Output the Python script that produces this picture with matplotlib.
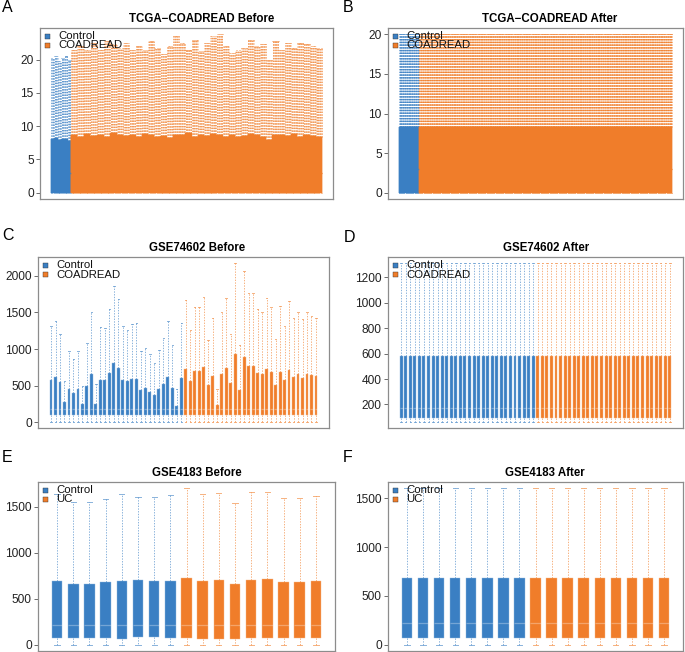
import numpy as np
import matplotlib as mpl
import matplotlib.pyplot as plt
from matplotlib.patches import Rectangle

mpl.use('Agg')
plt.rcParams['font.family'] = ['Liberation Sans', 'DejaVu Sans']

BLUE = "#3A7FC3"
ORANGE = "#F07D2A"

# ---- TCGA-COADREAD (log2 counts), values read per block of samples ----
tcga_n_ctrl = 51
tcga_n_case = 647
tcga_ctrl_hi = [20.3, 20.6, 19.8, 20.2, 20.5, 19.9]
tcga_ctrl_q3 = [8.0, 8.2, 7.9, 8.1, 8.0, 7.8]
tcga_case_hi = [21.5, 22.0, 21.5, 22.5, 21.5, 22.8, 22.3, 21.8, 22.5, 21.5,
                22.0, 21.5, 22.8, 21.8, 20.8, 22.0, 23.5, 22.5, 21.5, 23.0,
                21.3, 22.5, 23.5, 23.8, 22.0, 21.0, 21.5, 21.8, 23.0, 22.0,
                22.3, 20.0, 22.8, 21.5, 22.5, 21.8, 22.5, 22.3, 22.0, 21.8]
tcga_case_q3 = [8.6, 8.4, 8.8, 8.5, 8.7, 8.3, 8.9, 8.6, 8.5, 8.7,
                8.4, 8.8, 8.6, 8.3, 8.5, 8.2, 8.7, 8.6, 8.9, 8.4,
                8.6, 8.5, 8.8, 8.7, 8.4, 8.6, 8.3, 8.5, 8.8, 8.6,
                8.4, 7.9, 8.6, 8.7, 8.5, 8.8, 8.4, 8.6, 8.5, 8.3]
tcga_lo, tcga_q1, tcga_med = 0.0, 0.0, 3.0
# after normalisation every sample has the same summary
tcga_after = dict(lo=0.0, q1=0.0, med=3.0, q3=8.25, hi=20.0)

# ---- GSE74602 ----
gse74_ctrl_q3 = [580, 620, 545, 280, 450, 400, 450, 245, 490, 665,
                 255, 580, 575, 680, 810, 740, 580, 560, 590, 595,
                 440, 470, 420, 370, 450, 520, 615, 465, 225, 605]
gse74_ctrl_hi = [1310, 1380, 1200, 560, 970, 860, 980, 490, 1080, 1510,
                 530, 1300, 1290, 1550, 1860, 1690, 1310, 1260, 1340, 1360,
                 970, 1010, 930, 810, 990, 1150, 1390, 1050, 450, 1350]
gse74_case_q3 = [730, 570, 695, 695, 750, 510, 630, 235, 655, 740,
                 540, 930, 440, 890, 765, 765, 680, 665, 735, 690,
                 510, 690, 575, 715, 625, 660, 600, 660, 640, 630]
gse74_case_hi = [1670, 1260, 1580, 1570, 1710, 1130, 1420, 460, 1500, 1700,
                 1200, 2170, 1060, 2070, 1770, 1760, 1550, 1510, 1700, 1580,
                 1140, 1590, 1310, 1650, 1430, 1510, 1410, 1510, 1450, 1420]
gse74_lo, gse74_q1, gse74_med = 10, 100, 180
gse74_after = dict(lo=65, q1=95, med=175, q3=585, hi=1310)

# ---- GSE4183 ----
gse41_ctrl_q1 = [70, 75, 75, 75, 65, 85, 85, 70]
gse41_ctrl_q3 = [690, 665, 665, 680, 690, 700, 690, 690]
gse41_ctrl_hi = [1640, 1550, 1550, 1580, 1640, 1610, 1600, 1630]
gse41_case_q1 = [75, 65, 65, 65, 70, 75, 75, 70, 70]
gse41_case_q3 = [725, 695, 700, 655, 705, 710, 685, 685, 690]
gse41_case_hi = [1700, 1640, 1650, 1540, 1660, 1660, 1590, 1590, 1620]
gse41_lo, gse41_med = 0, 215
gse41_after = dict(lo=0, q1=68, med=223, q3=688, hi=1605)


def blocks(values, n):
    """Spread per-block readings over n samples."""
    out = np.empty(n)
    for idx, v in zip(np.array_split(np.arange(n), len(values)), values):
        out[idx] = v
    return out


def stats(lo, q1, med, q3, hi, n):
    cols = [np.broadcast_to(np.asarray(v, float), (n,)) for v in (lo, q1, med, q3, hi)]
    return [dict(whislo=a, q1=b, med=c, q3=d, whishi=e, fliers=[])
            for a, b, c, d, e in zip(*cols)]


FIG_W, FIG_H = 685, 652
fig = plt.figure(figsize=(FIG_W / 100, FIG_H / 100), dpi=100)


def make_axes(left, right, top, bottom):
    return fig.add_axes([left / FIG_W, 1 - bottom / FIG_H,
                         (right - left) / FIG_W, (bottom - top) / FIG_H])


def draw_group(ax, st, start, color, dense, walpha):
    pos = np.arange(start, start + len(st))
    edge = color if dense else mpl.colors.to_hex(
        0.55 * np.array(mpl.colors.to_rgb(color)) + 0.45)
    width = 1.0 if dense else 0.65
    ax.bxp(st, positions=pos, widths=width, patch_artist=True,
           showfliers=False, capwidths=width / 2,
           boxprops=dict(facecolor=color, edgecolor=edge, linewidth=0.3),
           whiskerprops=dict(color=color, alpha=walpha, linewidth=0.7,
                             linestyle=(0, (1.4, 1.4))),
           capprops=dict(color=color, alpha=walpha, linewidth=0.7),
           medianprops=dict(color=color if dense else "white",
                            alpha=1.0 if dense else 0.3, linewidth=0.9))


def panel(box, letter, letter_xy, title, title_x, groups, labels, ticks,
          dense=False, walpha=0.6):
    ax = make_axes(*box)
    n = 0
    lows, highs = [], []
    for st, color in groups:
        draw_group(ax, st, n + 1, color, dense, walpha)
        n += len(st)
        lows += [s['whislo'] for s in st]
        highs += [s['whishi'] for s in st]
    lo, hi = min(lows), max(highs)
    rng = hi - lo
    ax.set_ylim(lo - 0.04 * rng, hi + 0.04 * rng)
    ax.set_xlim(0.5 - 0.04 * n, n + 0.5 + 0.04 * n)
    ax.set_xticks([])
    ax.set_yticks(ticks)
    ax.tick_params(axis='y', length=3, width=0.6, color="#555555",
                   labelsize=8.6, labelcolor="#222222", pad=1.5)
    for sp in ax.spines.values():
        sp.set_color("#8c8c8c")
        sp.set_linewidth(0.9)

    # legend drawn like base R: small squares, tight rows
    w_px = box[1] - box[0]
    h_px = box[3] - box[2]
    for k, (lab, (_, color)) in enumerate(zip(labels, groups)):
        yc = 8 + 9.5 * k
        ax.add_patch(Rectangle((5 / w_px, 1 - (yc + 2.5) / h_px), 5 / w_px, 5 / h_px,
                               transform=ax.transAxes, facecolor=color,
                               edgecolor="#333333", linewidth=0.3, zorder=5))
        ax.text(18 / w_px, 1 - yc / h_px, lab, transform=ax.transAxes,
                fontsize=8.2, va='center', ha='left', color="#111111", zorder=5)

    fig.text(title_x / FIG_W, 1 - (box[2] - 9) / FIG_H, title, ha='center',
             va='center', fontsize=8.3, fontweight='bold')
    fig.text(letter_xy[0] / FIG_W, 1 - letter_xy[1] / FIG_H, letter,
             ha='left', va='center', fontsize=11.5)
    return ax


# A
a_ctrl = stats(tcga_lo, tcga_q1, tcga_med, blocks(tcga_ctrl_q3, tcga_n_ctrl),
               blocks(tcga_ctrl_hi, tcga_n_ctrl), tcga_n_ctrl)
a_case = stats(tcga_lo, tcga_q1, tcga_med, blocks(tcga_case_q3, tcga_n_case),
               blocks(tcga_case_hi, tcga_n_case), tcga_n_case)
panel((40, 333, 28, 199), "A", (2, 7), "TCGA\u2212COADREAD Before", 202,
      [(a_ctrl, BLUE), (a_case, ORANGE)], ["Control", "COADREAD"],
      [0, 5, 10, 15, 20], dense=True, walpha=0.4)

# B
b_ctrl = stats(*tcga_after.values(), tcga_n_ctrl)
b_case = stats(*tcga_after.values(), tcga_n_case)
panel((388, 683, 28, 199), "B", (343, 8), "TCGA\u2212COADREAD After", 550,
      [(b_ctrl, BLUE), (b_case, ORANGE)], ["Control", "COADREAD"],
      [0, 5, 10, 15, 20], dense=True, walpha=0.6)

# C
c_ctrl = stats(gse74_lo, gse74_q1, gse74_med, gse74_ctrl_q3, gse74_ctrl_hi, len(gse74_ctrl_q3))
c_case = stats(gse74_lo, gse74_q1, gse74_med, gse74_case_q3, gse74_case_hi, len(gse74_case_q3))
panel((38, 329, 257, 428), "C", (2, 235), "GSE74602 Before", 197,
      [(c_ctrl, BLUE), (c_case, ORANGE)], ["Control", "COADREAD"],
      [0, 500, 1000, 1500, 2000])

# D
d_ctrl = stats(*gse74_after.values(), len(gse74_ctrl_q3))
d_case = stats(*gse74_after.values(), len(gse74_case_q3))
panel((388, 683, 257, 428), "D", (344, 237), "GSE74602 After", 546,
      [(d_ctrl, BLUE), (d_case, ORANGE)], ["Control", "COADREAD"],
      [200, 400, 600, 800, 1000, 1200])

# E
e_ctrl = stats(gse41_lo, gse41_ctrl_q1, gse41_med, gse41_ctrl_q3, gse41_ctrl_hi, len(gse41_ctrl_q3))
e_case = stats(gse41_lo, gse41_case_q1, gse41_med, gse41_case_q3, gse41_case_hi, len(gse41_case_q3))
panel((38, 335, 482, 651), "E", (2, 458), "GSE4183 Before", 197,
      [(e_ctrl, BLUE), (e_case, ORANGE)], ["Control", "UC"],
      [0, 500, 1000, 1500])

# F
f_ctrl = stats(*gse41_after.values(), len(gse41_ctrl_q3))
f_case = stats(*gse41_after.values(), len(gse41_case_q3))
panel((388, 683, 482, 651), "F", (343, 458), "GSE4183 After", 545,
      [(f_ctrl, BLUE), (f_case, ORANGE)], ["Control", "UC"],
      [0, 500, 1000, 1500])

fig.savefig("out.png", dpi=100)
